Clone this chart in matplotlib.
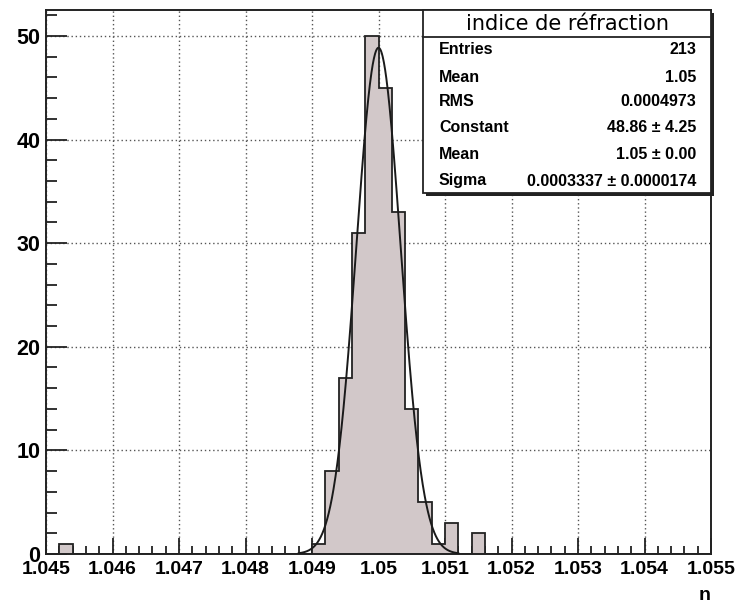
import numpy as np
import matplotlib
matplotlib.use("Agg")
import matplotlib.pyplot as plt
from matplotlib.patches import Rectangle
from matplotlib.lines import Line2D
from matplotlib.ticker import MultipleLocator

# histogramme: 50 bins entre 1.045 et 1.055
x_min, x_max, n_bins = 1.045, 1.055, 50
counts = [0, 1, 0, 0, 0, 0, 0, 0, 0, 0,
          0, 0, 0, 0, 0, 0, 0, 0, 0, 0,
          1, 8, 17, 31, 50, 45, 33, 14, 5, 1,
          3, 0, 2, 0, 0, 0, 0, 0, 0, 0,
          0, 0, 0, 0, 0, 0, 0, 0, 0, 0]

# parametres du fit gaussien (boite de stats)
fit_const = 48.86
fit_mean = 1.05
fit_sigma = 0.0003337
fit_range = (1.0488, 1.0512)

stat_labels = ["Entries", "Mean", "RMS", "Constant", "Mean", "Sigma"]
stat_values = ["213", "1.05", "0.0004973", "48.86 \u00b1 4.25", "1.05 \u00b1 0.00",
               "0.0003337 \u00b1 0.0000174"]
titre = "indice de r\u00e9fraction"

W, H = 738, 608
FILL = "#d2c8c9"
TICKFONT = dict(family="Liberation Sans", weight="bold")


def fx(px):
    return px / W


def fy(py):
    return 1 - py / H


fig = plt.figure(figsize=(W / 100, H / 100), dpi=100)
ax = fig.add_axes([fx(46), fy(554), (711 - 46) / W, (554 - 10) / H])

edges = np.linspace(x_min, x_max, n_bins + 1)
ax.stairs(counts, edges, fill=True, color=FILL, zorder=2)
ax.stairs(counts, edges, color="#222222", lw=1.3, zorder=3)

xs = np.linspace(fit_range[0], fit_range[1], 400)
ax.plot(xs, fit_const * np.exp(-0.5 * ((xs - fit_mean) / fit_sigma) ** 2),
        color="#1a1a1a", lw=1.4, zorder=4)

ax.set_xlim(x_min, x_max)
ax.set_ylim(0, 52.5)
ax.xaxis.set_major_locator(MultipleLocator(0.001))
ax.xaxis.set_minor_locator(MultipleLocator(0.0002))
ax.yaxis.set_major_locator(MultipleLocator(10))
ax.yaxis.set_minor_locator(MultipleLocator(2))
ax.xaxis.set_major_formatter(plt.FuncFormatter(lambda v, p: f"{v:.3f}".rstrip("0")))

ax.tick_params(axis="both", which="both", direction="in", top=False, right=False,
               width=1.3, color="#222222")
ax.tick_params(axis="x", which="major", length=11.5, pad=5, labelsize=14)
ax.tick_params(axis="x", which="minor", length=6)
ax.tick_params(axis="y", which="major", length=15, pad=4, labelsize=15.5)
ax.tick_params(axis="y", which="minor", length=8)
for lab in ax.get_xticklabels() + ax.get_yticklabels():
    lab.set_fontfamily("Liberation Sans")
    lab.set_fontweight("bold")

ax.grid(True, which="major", color="#555555", linestyle=(0, (1, 2)), lw=1.0, zorder=1)
ax.set_axisbelow(True)
for s in ax.spines.values():
    s.set_linewidth(1.4)
    s.set_color("#222222")

fig.text(fx(711), fy(596), "n", ha="right", va="center", fontsize=14, **TICKFONT)

# boite de statistiques (style ROOT avec ombre)
bx0, by0, bx1, by1 = 423, 10, 711, 193
shadow = Rectangle((fx(bx0 + 3), fy(by1 + 3)), fx(bx1 - bx0), (by1 - by0) / H,
                   transform=fig.transFigure, facecolor="#222222", edgecolor="none", zorder=10)
box = Rectangle((fx(bx0), fy(by1)), fx(bx1 - bx0), (by1 - by0) / H,
                transform=fig.transFigure, facecolor="white", edgecolor="#222222",
                lw=1.3, zorder=11)
fig.add_artist(shadow)
fig.add_artist(box)
fig.add_artist(Line2D([fx(bx0), fx(bx1)], [fy(37), fy(37)], transform=fig.transFigure,
                      color="#222222", lw=1.3, zorder=12))
fig.text(fx((bx0 + bx1) / 2), fy(24), titre, ha="center", va="center",
         fontsize=15, family="DejaVu Sans", zorder=13)

row_y = [50, 77, 102, 128, 155, 181]
for y, lab, val in zip(row_y, stat_labels, stat_values):
    fig.text(fx(439), fy(y), lab, ha="left", va="center", fontsize=11.5, zorder=13, **TICKFONT)
    fig.text(fx(696), fy(y), val, ha="right", va="center", fontsize=11.5, zorder=13, **TICKFONT)

fig.savefig("out.png", dpi=100, facecolor="white")
